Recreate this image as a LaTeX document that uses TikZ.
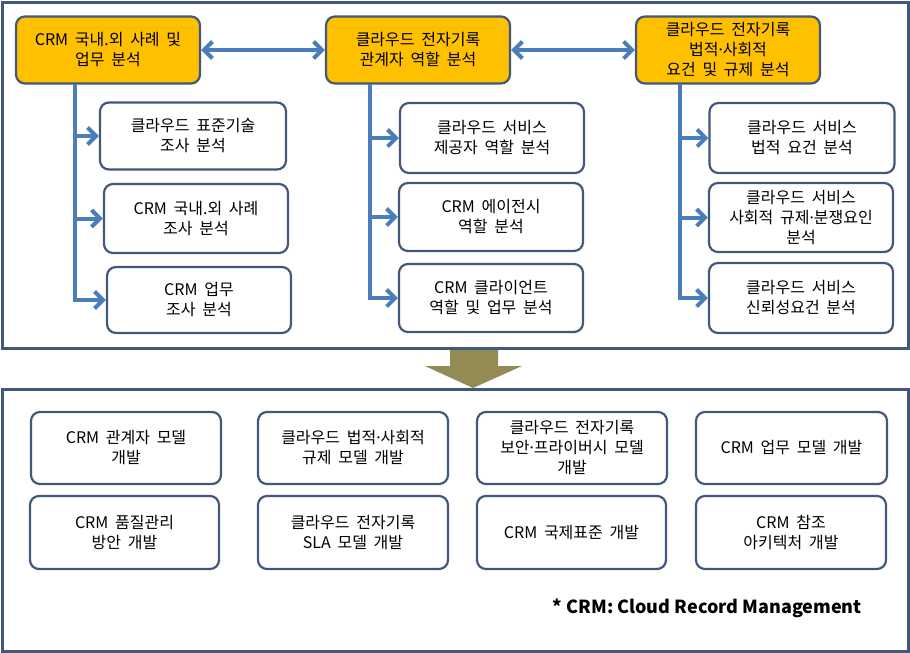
\documentclass[tikz,border=0pt]{standalone}
\usepackage{fontspec}
\setmainfont{Noto Sans CJK KR}
\newfontfamily\latf{Noto Sans}
\newcommand{\mdt}{{\latf ·}}
\newcommand{\kfont}{\fontsize{16}{20}\selectfont\spaceskip=0.42em\relax}
\usetikzlibrary{arrows.meta}
\definecolor{orgc}{HTML}{FFC000}
\definecolor{bordc}{HTML}{41587A}
\definecolor{linec}{HTML}{4A7EBB}
\definecolor{olivec}{HTML}{948A54}
\begin{document}
\begin{tikzpicture}[x=1pt,y=-1pt,
 box/.style={draw=bordc,line width=2.2pt,rounded corners=9pt,fill=white,align=center,inner sep=0pt,text=black,font=\kfont},
 obox/.style={box,fill=orgc},
 frame/.style={draw=bordc,line width=3pt,inner sep=0pt},
 conn/.style={draw=linec,line width=4pt,line join=miter,-{Straight Barb[length=8.5pt,width=17pt]}},
 dconn/.style={draw=linec,line width=4pt,{Straight Barb[length=8.5pt,width=17pt]}-{Straight Barb[length=8.5pt,width=17pt]}},
 note/.style={font=\fontsize{18}{20}\selectfont\bfseries,inner sep=0pt,anchor=east}
]
\useasboundingbox (0,0) rectangle (910,653);
% down arrow
\fill[olivec] (450,349) -- (498,349) -- (498,366) -- (522,366) -- (473,388) -- (425,366) -- (450,366) -- cycle;
% frames
\node[frame,minimum width=906pt,minimum height=346pt] (topf) at (455,175) {};
\node[frame,minimum width=906pt,minimum height=262pt] (botf) at (455,520) {};
% top row
\node[obox,minimum width=184pt,minimum height=67pt] (A) at (108,50) {CRM 국내.외 사례 및\\업무 분석};
\node[obox,minimum width=184pt,minimum height=67pt] (B) at (418,50) {클라우드 전자기록\\관계자 역할 분석};
\node[obox,minimum width=184pt,minimum height=67pt] (C) at (728,50) {클라우드 전자기록\\법적\mdt 사회적\\요건 및 규제 분석};
% column 1
\node[box,minimum width=186pt,minimum height=67pt] (a1) at (193,136) {클라우드 표준기술\\조사 분석};
\node[box,minimum width=184pt,minimum height=69pt] (a2) at (196,218.5) {CRM 국내.외 사례\\조사 분석};
\node[box,minimum width=184pt,minimum height=66pt] (a3) at (199,300) {CRM 업무\\조사 분석};
% column 2
\node[box,minimum width=184pt,minimum height=70pt] (b1) at (492,138) {클라우드 서비스\\제공자 역할 분석};
\node[box,minimum width=184pt,minimum height=68pt] (b2) at (491,217) {CRM 에이전시\\역할 분석};
\node[box,minimum width=184pt,minimum height=68pt] (b3) at (491,298) {CRM 클라이언트\\역할 및 업무 분석};
% column 3
\node[box,minimum width=185pt,minimum height=70pt] (c1) at (802,138) {클라우드 서비스\\법적 요건 분석};
\node[box,minimum width=184pt,minimum height=69pt] (c2) at (801,217.5) {클라우드 서비스\\사회적 규제\mdt 분쟁요인\\분석};
\node[box,minimum width=184pt,minimum height=70pt] (c3) at (801,298) {클라우드 서비스\\신뢰성요건 분석};
% connectors
\draw[dconn] (A) -- (B);
\draw[dconn] (B) -- (C);
\coordinate (ta) at (75,83.5);
\coordinate (tb) at (370,83.5);
\coordinate (tc) at (680,83.5);
\draw[conn] (ta) |- (a1);
\draw[conn] (ta) |- (a2);
\draw[conn] (ta) |- (a3);
\draw[conn] (tb) |- (b1);
\draw[conn] (tb) |- (b2);
\draw[conn] (tb) |- (b3);
\draw[conn] (tc) |- (c1);
\draw[conn] (tc) |- (c2);
\draw[conn] (tc) |- (c3);
% bottom boxes
\node[box,minimum width=190pt,minimum height=72pt] (d1) at (126,448) {CRM 관계자 모델\\개발};
\node[box,minimum width=190pt,minimum height=72pt] (d2) at (353,448) {클라우드 법적\mdt 사회적\\규제 모델 개발};
\node[box,minimum width=190pt,minimum height=72pt] (d3) at (572,448) {클라우드 전자기록\\보안\mdt 프라이버시 모델\\개발};
\node[box,minimum width=191pt,minimum height=72pt] (d4) at (791.5,448) {CRM 업무 모델 개발};
\node[box,minimum width=189pt,minimum height=73pt] (e1) at (124.5,532.5) {CRM 품질관리\\방안 개발};
\node[box,minimum width=190pt,minimum height=73pt] (e2) at (353,532.5) {클라우드 전자기록\\SLA 모델 개발};
\node[box,minimum width=189pt,minimum height=73pt] (e3) at (571.5,532.5) {CRM 국제표준 개발};
\node[box,minimum width=190pt,minimum height=73pt] (e4) at (791,532.5) {CRM 참조\\아키텍처 개발};
\node[note] (fn) at (862,608) {* CRM: Cloud Record Management};
\end{tikzpicture}
\end{document}
